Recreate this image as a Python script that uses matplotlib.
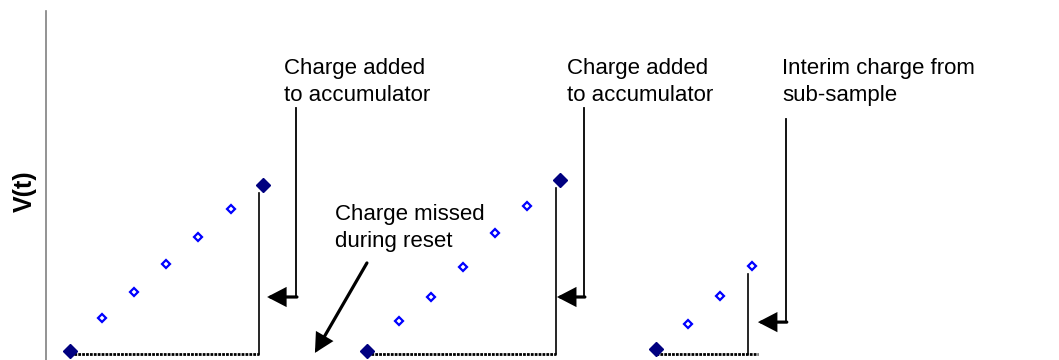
import matplotlib
matplotlib.use('Agg')
import matplotlib.pyplot as plt
import numpy as np

# sample times and voltages
t1 = [0, 1, 2, 3, 4, 5, 6]
v1 = [0.0, 1.22, 2.19, 3.22, 4.22, 5.26, 6.15]
t2 = [9.25, 10.25, 11.25, 12.25, 13.25, 14.25, 15.25]
v2 = [0.0, 1.11, 2.0, 3.11, 4.37, 5.37, 6.33]
t3 = [18.25, 19.25, 20.25, 21.25]
v3 = [0.07, 1.0, 2.04, 3.15]

labels = ['Charge added\nto accumulator', 'Charge added\nto accumulator',
          'Interim charge from\nsub-sample']
missed_label = 'Charge missed\nduring reset'

plt.rcParams['font.family'] = ['Liberation Sans', 'DejaVu Sans']

fig = plt.figure(figsize=(10.59, 3.6), dpi=100)
ax = fig.add_axes([46 / 1059, 0, 1 - 46 / 1059, 349 / 360])
ax.set_xlim(-0.748, 30.81)
ax.set_ylim(-0.333, 12.59)
for s in ['top', 'right', 'bottom']:
    ax.spines[s].set_visible(False)
ax.spines['left'].set_color('#808080')
ax.spines['left'].set_linewidth(1.2)
ax.set_xticks([])
ax.set_yticks([])

navy = '#000080'
blue = '#0000FF'

groups = [(t1, v1, True), (t2, v2, True), (t3, v3, False)]
for t, v, full in groups:
    # baseline and charge bar
    xe = t[-1] - 0.12
    xend = xe if full else t[-1] + 0.18
    ax.plot([t[0], xend], [-0.11, -0.11], color='black', lw=2,
            linestyle=(0, (1, 0.4)), zorder=2)
    ax.plot([xe, xe], [-0.11, v[-1] - 0.3], color='black', lw=1.2, zorder=2)
    # hollow sub-samples
    inner_t = t[1:-1] if full else t[1:]
    inner_v = v[1:-1] if full else v[1:]
    ax.plot(inner_t, inner_v, linestyle='none', marker='D', ms=4,
            mfc='white', mec=blue, mew=1.6, zorder=3)
    ends_t = [t[0], t[-1]] if full else [t[0]]
    ends_v = [v[0], v[-1]] if full else [v[0]]
    ax.plot(ends_t, ends_v, linestyle='none', marker='D', ms=7.4,
            color=navy, zorder=4)

arrow = dict(arrowstyle='-|>,head_length=0.52,head_width=0.27', lw=2.3,
             color='black', mutation_scale=20, shrinkA=0, shrinkB=0,
             joinstyle='miter')

# callouts: (vertical x, top y, arrow y, tip x, text x, text top)
callouts = [
    (7.04, 9.0, 2.0, t1[-1] + 0.14, 6.67, 10.85),
    (16.01, 9.0, 2.0, t2[-1] - 0.08, 15.48, 10.85),
    (22.3, 8.6, 1.07, t3[-1] + 0.18, 22.18, 10.85),
]
for (xv, ytop, ya, xtip, xt, yt), lab in zip(callouts, labels):
    ax.plot([xv, xv], [ytop, ya], color='black', lw=1.3)
    ax.annotate('', xy=(xtip, ya), xytext=(xv + 0.03, ya), arrowprops=arrow)
    ax.text(xt, yt, lab, fontsize=16, ha='left', va='top', linespacing=1.4)

ax.text(8.26, 5.45, missed_label, fontsize=16, ha='left', va='top',
        linespacing=1.4)
ax.annotate('', xy=(7.63, -0.07), xytext=(9.25, 3.26), arrowprops=arrow)

fig.text(24.5 / 1059, 1 - 191 / 360, 'V(t)', rotation=90, fontsize=18,
         fontweight='bold', ha='center', va='center')

fig.savefig('out.png', dpi=100)
